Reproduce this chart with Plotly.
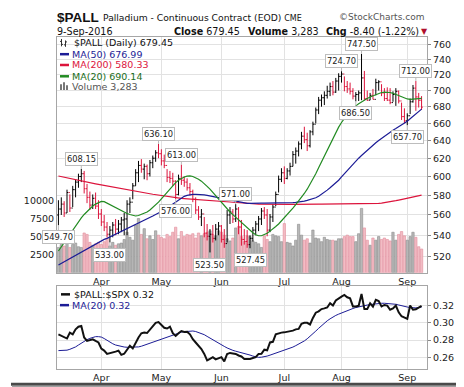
import math
import pandas as pd
import plotly.graph_objects as go

# ---------------- data ----------------
holidays = ["2016-03-25", "2016-05-30", "2016-07-04", "2016-09-05"]
trade_dates = [d for d in pd.bdate_range("2016-03-10", "2016-09-09")
               if d.strftime("%Y-%m-%d") not in holidays]

opens = [560, 566, 571, 562, 583, 567, 586, 594, 600, 603, 587, 578, 570, 577, 569,
         561, 553, 548, 541, 545, 550, 546, 551, 555, 556, 571, 573, 590, 604, 612,
         608, 611, 603, 615, 620, 626, 625, 617, 612, 599, 598, 595, 581, 598, 596,
         594, 588, 584, 576, 565, 558, 561, 542, 539, 541, 537, 546, 549, 536, 532,
         560, 563, 556, 566, 548, 536, 534, 531, 537, 545, 551, 556, 564, 560, 545,
         558, 568, 581, 597, 604, 598, 606, 611, 624, 628, 636, 645, 641, 634, 650,
         659, 676, 688, 691, 694, 699, 705, 698, 712, 718, 721, 705, 702, 699, 693,
         695, 697, 716, 690, 688, 694, 689, 710, 711, 697, 690, 688, 685, 695, 699,
         687, 668, 663, 669, 686, 703, 692, 687.85]
highs = [575, 578, 574, 586, 581, 590, 597, 603, 608.15, 606, 592, 584, 581, 583, 575,
         566, 560, 553, 549, 553, 556, 555, 558, 562, 575, 578, 593, 608, 617, 619,
         614, 613, 618, 623, 629, 636.10, 630, 624, 608, 606, 604, 596, 602, 613, 600,
         598, 593, 586, 578, 569, 566, 558, 551, 546, 550, 551, 553, 550, 546, 565,
         568, 566, 571, 568, 555, 546, 545, 540, 548, 554, 559, 567, 568, 566, 561,
         571, 584, 601, 609, 611, 609, 615, 628, 632, 639, 650, 656, 649, 652, 662,
         679, 692, 695, 699, 706, 710, 712, 716, 722, 724.70, 718, 712, 710, 703, 698,
         700, 747.50, 725, 700, 697, 702, 715, 713, 708, 703, 704, 703, 699, 703, 700,
         685, 678, 672, 690, 707, 712, 697, 693]
lows = [549.70, 560, 558, 562, 563, 568, 578, 588, 594, 582, 572, 565, 566, 566, 556,
        549, 544, 538, 533.00, 538, 540, 541, 543, 540, 540, 562, 576, 590, 594, 604,
        597, 596, 600, 609, 616, 620, 612, 609, 594, 593, 590, 576.00, 580, 591, 589,
        585, 580, 573, 561, 555, 549, 538, 535, 523.50, 533, 535, 540, 533, 528, 533,
        551, 552, 553, 541, 530, 531, 528, 527.45, 534, 540, 544, 550, 556, 539, 543,
        553, 569, 583, 594, 592, 597, 601, 611, 614, 622, 630, 637, 628, 632, 646,
        660, 671, 680, 682, 690, 693, 694, 697, 700, 710, 699, 697, 695, 689, 686.50,
        687, 688, 688, 687, 688, 689, 694, 700, 693, 687, 687, 683, 686, 681, 684,
        664, 660, 657.70, 671, 685, 675, 679, 676]
closes = [566, 571, 562, 583, 567, 586, 594, 600, 603, 587, 578, 570, 577, 569, 561,
          553, 548, 541, 545, 550, 546, 551, 555, 556, 571, 573, 590, 604, 612, 608,
          611, 603, 615, 620, 626, 625, 617, 612, 599, 598, 595, 581, 598, 596, 594,
          588, 584, 576, 565, 558, 561, 542, 539, 541, 537, 546, 549, 536, 532, 560,
          563, 556, 566, 548, 536, 534, 531, 537, 545, 551, 556, 564, 560, 545, 558,
          568, 581, 597, 604, 598, 606, 611, 624, 628, 636, 645, 641, 634, 650, 659,
          676, 688, 691, 694, 699, 705, 698, 712, 718, 721, 705, 702, 699, 693, 695,
          697, 716, 690, 688, 694, 689, 710, 711, 697, 690, 688, 685, 695, 699, 687,
          668, 663, 669, 686, 703, 692, 687.85, 679.45]
volumes = [3500, 3900, 3700, 4400, 3500, 3900, 4100, 3600, 3500, 5500, 5300, 4200, 3800, 4000, 4200,
           3900, 4300, 4800, 3700, 4200, 3800, 4000, 4100, 4600, 5600, 4900, 4500, 6600, 7500, 5300,
           6100, 4700, 5100, 4600, 5800, 5200, 4900, 4700, 5300, 5000, 5600, 6300, 4700, 5700, 5000,
           5300, 5200, 5400, 4800, 5500, 5100, 5400, 5600, 5800, 5300, 5100, 5800, 5600, 5200, 4700,
           4400, 4800, 6200, 6400, 5000, 4300, 5100, 5000, 4400, 4200, 4000, 3500, 5100, 4600, 4300,
           5300, 5100, 5000, 4300, 6800, 4200, 4100, 3700, 4500, 6700, 5200, 4500, 4700, 4100, 5900,
           4800, 4700, 4300, 4900, 4600, 4500, 4500, 4400, 4700, 4700, 5000, 5200, 5000, 5000, 4300,
           5400, 8900, 6200, 4500, 3800, 4800, 4500, 5000, 4600, 4800, 4600, 4400, 5600, 4500, 5300,
           5700, 5100, 4500, 5000, 5600, 4900, 3600, 3283]
ma50 = [512, 513.5, 515, 516.5, 518, 519.5, 521, 522.5, 524, 525.5, 527, 528.5, 530, 531.5, 533,
        534.5, 536, 537, 538.3, 539.6, 541, 542.3, 543.6, 545, 546.3, 547.6, 549, 550.3, 551.6, 553,
        554.5, 556, 557.5, 559, 560.5, 562, 563, 565, 567, 569, 571, 573, 575, 577, 579,
        580, 580.6, 581, 581, 581, 580.8, 580.5, 580, 579.4, 578.8, 578.2, 577.6, 577, 576, 575.4,
        574.8, 574.2, 573.6, 573, 572.5, 572, 571.8, 571.7, 571.6, 571.7, 572, 572, 572, 572, 572,
        572, 572, 572, 572.1, 572.2, 572.3, 572.4, 572.6, 572.8, 573, 573.5, 574, 574.8, 575.6, 576.5,
        577.5, 579, 581, 583, 585.5, 588, 590.5, 593, 596, 599.5, 603, 606.5, 610, 613.5, 617,
        620, 623, 626, 629, 632, 635, 637.5, 640, 642.5, 645, 647.5, 650, 652, 654, 656,
        658, 660, 662.5, 665.5, 668.5, 671.5, 674.5, 676.99]
ma200 = [600.5, 599.8, 599.1, 598.4, 597.7, 597, 596.4, 595.8, 595.2, 594.6, 594, 593.4, 592.8, 592.2, 591.6,
         591, 590.4, 589.8, 589.2, 588.6, 588.1, 587.6, 587.1, 586.6, 586.1, 585.6, 585, 584.4, 583.8, 583.2,
         582.7, 582.2, 581.7, 581.2, 580.7, 580.2, 579.7, 579.2, 578.7, 578.2, 577.7, 577.4, 577.1, 576.9, 576.7,
         576.5, 576.3, 576.2, 576, 575.9, 575.8, 575.7, 575.6, 575.3, 575, 574.7, 574.4, 574.1, 573.8, 573.5,
         573.2, 572.9, 572.6, 572.4, 572.2, 572, 571.8, 571.6, 571.4, 571.2, 571.1, 571, 571, 570.9, 570.9,
         570.9, 570.8, 570.8, 570.8, 570.8, 570.8, 570.8, 570.8, 570.9, 570.9, 570.9, 570.9, 571, 571, 571,
         571, 571, 571, 571, 571, 571, 571, 571, 571, 571, 571, 571, 571, 571, 571,
         571, 571, 571, 571, 571.1, 571.2, 571.4, 571.7, 572, 572.4, 572.8, 573.4, 574, 574.6, 575.2,
         575.8, 576.4, 577, 577.6, 578.2, 578.8, 579.5, 580.33]
ma20 = [525, 529, 533, 537, 541, 545, 549, 553, 557, 560.5, 563.5, 566.5, 569, 571, 572.8,
        573.8, 573.5, 572, 570, 568.5, 567, 565.5, 564, 563, 561.5, 560.5, 559.5, 559, 559.5, 560.5,
        561.5, 563, 565, 567.5, 570, 573, 576.5, 580, 583.5, 587, 590.5, 593.5, 596, 598, 599.5,
        600.3, 600.6, 600, 598.8, 597, 595, 592.5, 589.5, 586.5, 583, 579.5, 576, 572.5, 569, 566,
        563, 560.3, 557.6, 555, 552.5, 550, 547.5, 545, 542.5, 540.5, 539.5, 539.5, 540.5, 542, 544,
        546, 548.5, 551, 554, 557, 560, 563.5, 567, 570.5, 574, 578, 582, 586.5, 591.5, 597,
        603, 609.5, 616, 622.5, 629.5, 636.5, 643, 649.5, 655.5, 661, 666, 670.5, 674.5, 678, 681,
        683.5, 686, 688, 690, 692, 693.5, 695, 696.5, 697.5, 698, 698, 697.5, 696.5, 695, 693.5,
        692, 690.5, 689.5, 689, 689.5, 690, 690.3, 690.14]
ratio = [0.2867, 0.2850, 0.2840, 0.2818, 0.2887, 0.2867, 0.2925, 0.2956, 0.2965, 0.2830, 0.2791, 0.2800, 0.2809, 0.2790, 0.2772,
         0.2700, 0.2677, 0.2638, 0.2645, 0.2657, 0.2665, 0.2677, 0.2627, 0.2640, 0.2684, 0.2734, 0.2703, 0.2772, 0.2830, 0.2879,
         0.2887, 0.2882, 0.2925, 0.2960, 0.3001, 0.3010, 0.2982, 0.2944, 0.2935, 0.2956, 0.2880, 0.2849, 0.2880, 0.2906, 0.2895,
         0.2898, 0.2867, 0.2810, 0.2772, 0.2730, 0.2695, 0.2638, 0.2562, 0.2581, 0.2600, 0.2574, 0.2585, 0.2600, 0.2550, 0.2638,
         0.2650, 0.2646, 0.2638, 0.2620, 0.2608, 0.2580, 0.2578, 0.2580, 0.2590, 0.2600, 0.2638, 0.2640, 0.2688, 0.2680, 0.2772,
         0.2780, 0.2867, 0.2880, 0.2887, 0.2890, 0.2895, 0.2906, 0.2910, 0.2925, 0.2930, 0.2990, 0.3001, 0.3001, 0.2982, 0.3059,
         0.3120, 0.3135, 0.3162, 0.3170, 0.3181, 0.3230, 0.3203, 0.3262, 0.3290, 0.3308, 0.3327, 0.3300, 0.3288, 0.3193, 0.3193,
         0.3200, 0.3338, 0.3162, 0.3162, 0.3230, 0.3190, 0.3269, 0.3255, 0.3193, 0.3210, 0.3203, 0.3154, 0.3170, 0.3203, 0.3124,
         0.3078, 0.3060, 0.3048, 0.3203, 0.3154, 0.3160, 0.3185, 0.3200]
ratio_ma20 = [0.2677, 0.2677, 0.2678, 0.2682, 0.2692, 0.2705, 0.2720, 0.2742, 0.2765, 0.2788, 0.2805, 0.2820, 0.2833, 0.2840, 0.2840,
              0.2835, 0.2818, 0.2795, 0.2775, 0.2757, 0.2742, 0.2732, 0.2725, 0.2719, 0.2716, 0.2715, 0.2715, 0.2716, 0.2720, 0.2728,
              0.2740, 0.2752, 0.2763, 0.2775, 0.2786, 0.2797, 0.2806, 0.2820, 0.2835, 0.2850, 0.2863, 0.2873, 0.2883, 0.2892, 0.2898,
              0.2903, 0.2906, 0.2906, 0.2900, 0.2890, 0.2879, 0.2863, 0.2843, 0.2822, 0.2802, 0.2783, 0.2764, 0.2745, 0.2726, 0.2708,
              0.2692, 0.2680, 0.2670, 0.2662, 0.2655, 0.2647, 0.2638, 0.2625, 0.2613, 0.2603, 0.2598, 0.2600, 0.2605, 0.2613, 0.2624,
              0.2635, 0.2646, 0.2657, 0.2668, 0.2678, 0.2690, 0.2703, 0.2718, 0.2735, 0.2752, 0.2770, 0.2790, 0.2815, 0.2842, 0.2872,
              0.2905, 0.2937, 0.2970, 0.3000, 0.3025, 0.3048, 0.3070, 0.3088, 0.3103, 0.3118, 0.3132, 0.3145, 0.3157, 0.3169, 0.3180,
              0.3189, 0.3197, 0.3203, 0.3209, 0.3215, 0.3221, 0.3225, 0.3228, 0.3230, 0.3230, 0.3229, 0.3227, 0.3224, 0.3218, 0.3210,
              0.3200, 0.3193, 0.3186, 0.3180, 0.3176, 0.3176, 0.3180, 0.3185]

price_ticks = [520, 540, 560, 580, 600, 620, 640, 660, 680, 700, 720, 740, 760]
volume_ticks = [2500, 5000, 7500, 10000]
ratio_ticks = [0.26, 0.28, 0.30, 0.32]

# labelled swing points: (bar index, value, side)
label_idx = [0, 8, 18, 35, 41, 43, 53, 62, 67, 99, 104, 106, 122, 125]
label_val = [549.70, 608.15, 533.00, 636.10, 576.00, 613.00, 523.50, 571.00, 527.45,
             724.70, 686.50, 747.50, 657.70, 712.00]
label_side = ["below", "above", "below", "above", "below", "above", "below", "above",
              "below", "above", "below", "above", "below", "above"]

# ---------------- layout helpers ----------------
W, H = 464, 387
ML, MR, MT, MB = 49, 45, 29, 20
PW = W - ML - MR
PH = H - MT - MB
FONT = "DejaVu Sans"


def px(x):
    return (x - ML) / PW


def py(y):
    return (H - MB - y) / PH


idx = list(range(len(trade_dates)))
month_idx = [i for i in idx if i > 0 and trade_dates[i].month != trade_dates[i - 1].month]
month_txt = [trade_dates[i].strftime("%b") for i in month_idx]

BLACK = "#000000"
RED = "#dc143c"
up = [i == 0 or closes[i] >= closes[i - 1] for i in idx]

fig = go.Figure()

# volume (base axis, drawn below price)
fig.add_trace(go.Bar(
    x=idx, y=volumes, xaxis="x", yaxis="y", width=0.82,
    marker=dict(color=["#b8b8b8" if u else "#f2bcc4" for u in up],
                line=dict(color=["#8c8c8c" if u else "#e38d9c" for u in up], width=0.6)),
    hoverinfo="skip", showlegend=False))

# OHLC bars split by colour
for flag, col in [(True, BLACK), (False, RED)]:
    sel = [i for i in idx if up[i] == flag]
    fig.add_trace(go.Ohlc(
        x=sel, open=[opens[i] for i in sel], high=[highs[i] for i in sel],
        low=[lows[i] for i in sel], close=[closes[i] for i in sel],
        xaxis="x", yaxis="y2", tickwidth=0.45,
        increasing=dict(line=dict(color=col, width=1)),
        decreasing=dict(line=dict(color=col, width=1)),
        hoverinfo="skip", showlegend=False))

for vals, col in [(ma200, "#dc143c"), (ma50, "#1c1c96"), (ma20, "#228b22")]:
    fig.add_trace(go.Scatter(x=idx, y=vals, mode="lines", xaxis="x", yaxis="y2",
                             line=dict(color=col, width=1.2), hoverinfo="skip",
                             showlegend=False))

# lower panel
fig.add_trace(go.Scatter(x=idx, y=ratio_ma20, mode="lines", xaxis="x2", yaxis="y3",
                         line=dict(color="#1c1c96", width=1), hoverinfo="skip",
                         showlegend=False))
fig.add_trace(go.Scatter(x=idx, y=ratio, mode="lines", xaxis="x2", yaxis="y3",
                         line=dict(color="#111111", width=2), hoverinfo="skip",
                         showlegend=False))

xr = [-0.5, 128.9]
main_dom = [(PH - 240) / PH, 1]
low_dom = [0, 84 / PH]
tickfont = dict(family=FONT, size=9.5, color="#222")
frame = dict(showline=True, mirror=True, linecolor="#a6a6a6", linewidth=1)

fig.update_layout(
    width=W, height=H, margin=dict(l=ML, r=MR, t=MT, b=MB),
    paper_bgcolor="white", plot_bgcolor="white", showlegend=False,
    xaxis=dict(domain=[0, 1], anchor="y", range=xr, tickvals=month_idx, ticktext=month_txt,
               showgrid=True, gridcolor="#e2e2e2", zeroline=False, ticks="",
               tickfont=tickfont, rangeslider=dict(visible=False), **frame),
    yaxis=dict(domain=main_dom, anchor="x", range=[0, 32600], side="left",
               tickvals=volume_ticks, ticktext=[str(v) for v in volume_ticks],
               showgrid=False, zeroline=False, ticks="", tickfont=tickfont, **frame),
    yaxis2=dict(overlaying="y", anchor="x", side="right", type="log",
                range=[math.log10(504.9), math.log10(770.5)],
                tickvals=price_ticks, ticktext=[str(v) for v in price_ticks],
                showgrid=True, gridcolor="#e2e2e2", zeroline=False,
                ticks="outside", ticklen=3, tickcolor="#888", tickfont=tickfont),
    xaxis2=dict(domain=[0, 1], anchor="y3", range=xr, tickvals=month_idx, ticktext=month_txt,
                showgrid=True, gridcolor="#e2e2e2", zeroline=False, ticks="",
                tickfont=tickfont, rangeslider=dict(visible=False), **frame),
    yaxis3=dict(domain=low_dom, anchor="x2", side="right", range=[0.2462, 0.3426],
                tickvals=ratio_ticks, ticktext=["%.2f" % v for v in ratio_ticks],
                showgrid=True, gridcolor="#e2e2e2", zeroline=False,
                ticks="outside", ticklen=3, tickcolor="#888", tickfont=tickfont, **frame),
)

ann = []


def text(x, y, s, size=9.5, color="#111", anchor="left", family=FONT):
    ann.append(dict(x=px(x), y=py(y), xref="paper", yref="paper", text=s, showarrow=False,
                    xanchor=anchor, yanchor="middle",
                    font=dict(family=family, size=size, color=color)))


# header
text(47, 9.5, "<b>$PALL</b>", size=13.5, color="#111", family="Liberation Sans")
text(93, 9.5, "Palladium - Continuous Contract (EOD) <span style='font-size:8px'>CME</span>",
     size=9.2)
text(329, 8.5, "\u00a9StockCharts.com", size=9, color="#555")
text(47, 23, "9-Sep-2016", size=9.6)
text(164, 23, "<b>Close</b> 679.45", size=9.6)
text(238, 23, "<b>Volume</b> 3,283", size=9.6)
text(316, 23, "<b>Chg</b> -8.40 (-1.22%)", size=9.6)
text(411, 23.5, "\u25BC", size=8, color="#b0102c")

# main legend
text(64, 35, "$PALL (Daily) 679.45", size=9.5, color="#111")
text(62, 46.5, "MA(50) 676.99", size=9.5, color="#1c1c96")
text(62, 57.5, "MA(200) 580.33", size=9.5, color="#dc143c")
text(62, 69, "MA(20) 690.14", size=9.5, color="#1a6e1a")
text(62, 79, "Volume 3,283", size=9.5, color="#555")
# lower legend
text(64, 291, "$PALL:$SPX 0.32", size=9.5, color="#111")
text(62, 302, "MA(20) 0.32", size=9.5, color="#1c1c96")

# swing labels
for i, v, s in zip(label_idx, label_val, label_side):
    ann.append(dict(x=i, y=math.log10(v), xref="x", yref="y2", text="%.2f" % v,
                    showarrow=True, arrowhead=0, arrowwidth=1, arrowcolor="#bbbbbb",
                    ax=0, ay=(-10 if s == "above" else 12), standoff=0,
                    bgcolor="white", bordercolor="#bdbdbd", borderwidth=1, borderpad=1,
                    font=dict(family=FONT, size=8.3, color="#222")))

fig.update_layout(annotations=ann)

shapes = []


def seg(x0, y0, x1, y1, color, width=1):
    shapes.append(dict(type="line", xref="paper", yref="paper", x0=px(x0), y0=py(y0),
                       x1=px(x1), y1=py(y1), line=dict(color=color, width=width)))


def rect(x0, y0, x1, y1, color):
    shapes.append(dict(type="rect", xref="paper", yref="paper", x0=px(x0), y0=py(y0),
                       x1=px(x1), y1=py(y1), fillcolor=color, line=dict(width=0),
                       layer="above"))


# legend glyphs
seg(53.5, 31, 53.5, 38.5, "#333")
seg(52, 33.5, 53.5, 33.5, "#333")
seg(53.5, 36.5, 55, 36.5, "#333")
seg(57.5, 32.5, 57.5, 39, "#333")
seg(56, 37, 57.5, 37, "#333")
seg(57.5, 34, 59, 34, "#333")
seg(52, 46.5, 61, 46.5, "#1c1c96", 2.5)
seg(52, 57.5, 61, 57.5, "#dc143c", 2.5)
seg(52, 69, 61, 69, "#228b22", 2.5)
rect(52, 77, 54, 83, "#777")
rect(55, 75, 57, 83, "#777")
rect(58, 78, 60, 83, "#777")
seg(53, 291, 62, 291, "#111", 2.5)
seg(52, 302, 61, 302, "#1c1c96", 2.5)

# drop shadow of the chart card
rect(458.5, 4, 461.5, 385, "#4a4a4a")
rect(461.5, 5, 463.5, 386, "#a0a0a0")
rect(3, 381, 461.5, 384, "#4a4a4a")
rect(4, 384, 463.5, 386.5, "#a0a0a0")

fig.update_layout(shapes=shapes)

fig.write_html("out.html", config=dict(displayModeBar=False))
